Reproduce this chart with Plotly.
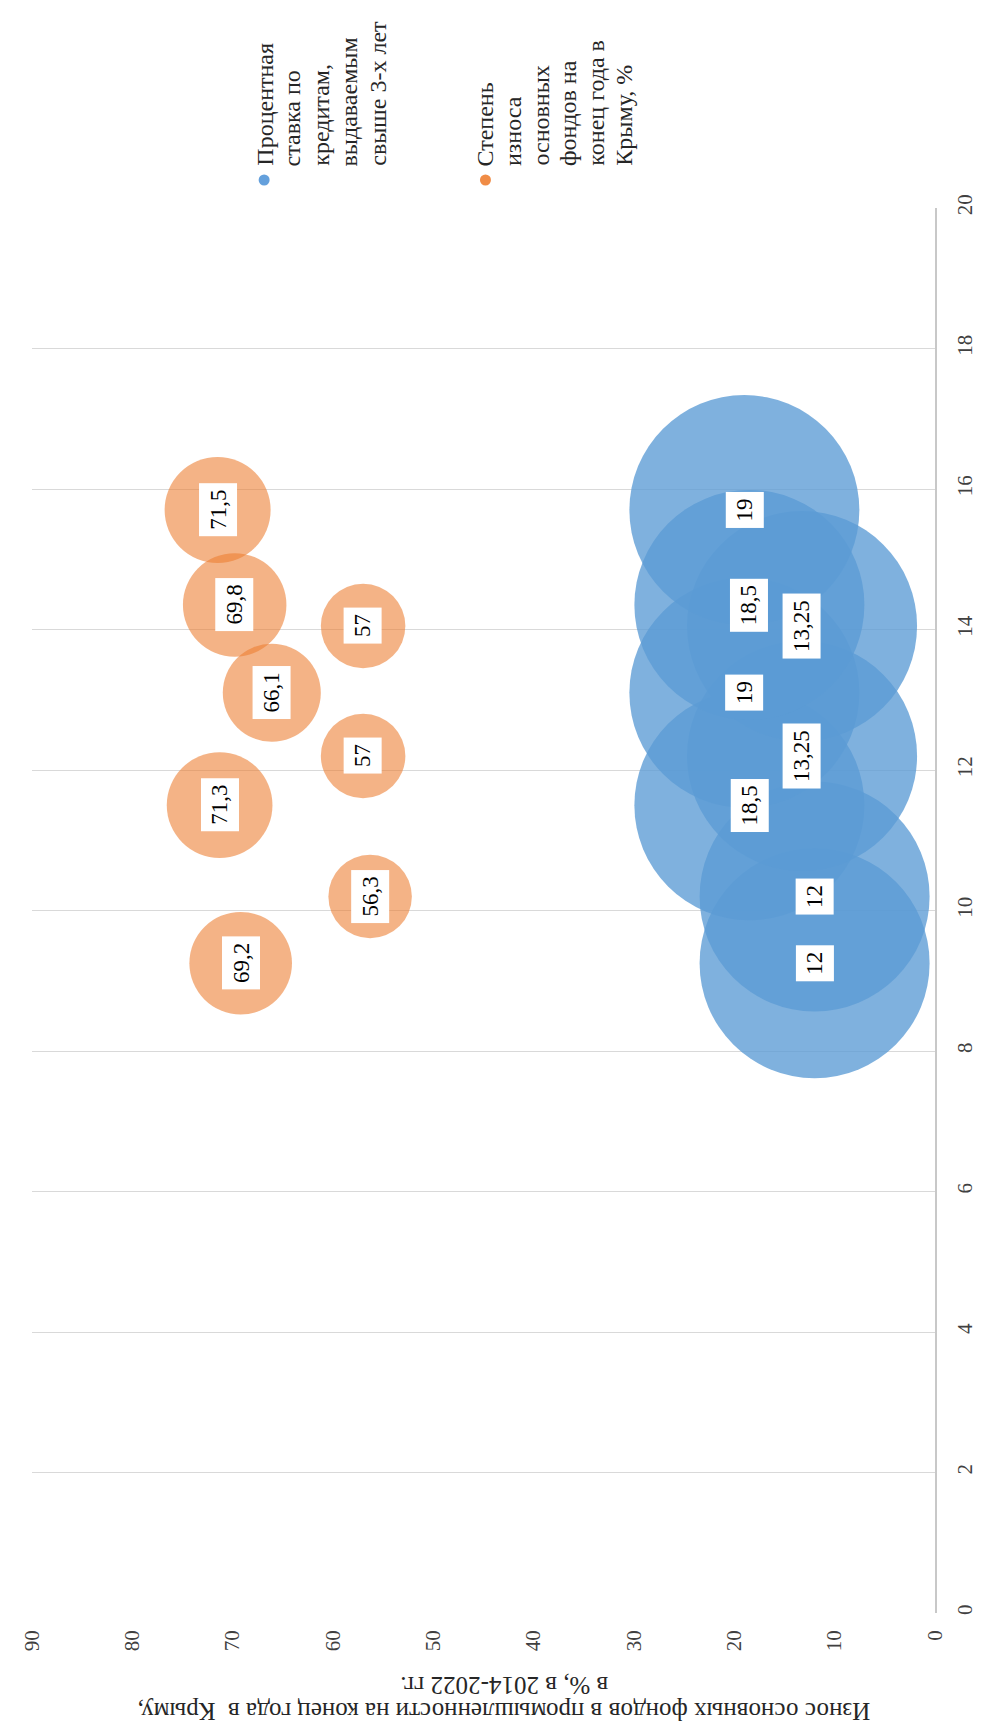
import plotly.graph_objects as go

# ---- data ----
x_vals = [9.25, 10.2, 11.5, 12.2, 13.1, 14.05, 14.35, 15.7]
rate = [12, 12, 18.5, 13.25, 19, 13.25, 18.5, 19]
wear = [69.2, 56.3, 71.3, 57, 66.1, 57, 69.8, 71.5]
legend_lines_rate = ["Процентная", "ставка по", "кредитам,", "выдаваемым", "свыше 3-х лет"]
legend_lines_wear = ["Степень", "износа", "основных", "фондов на", "конец года в", "Крыму, %"]
x_ticks = [0, 2, 4, 6, 8, 10, 12, 14, 16, 18, 20]
y_ticks = [0, 10, 20, 30, 40, 50, 60, 70, 80, 90]
axis_title_lines = ["Износ основных фондов в промышленности на конец года в  Крыму,",
                    "в %, в 2014-2022 гг."]

BLUE = "rgba(91,155,213,0.78)"
ORANGE = "rgba(237,125,49,0.84)"
BLUE_SOLID = "rgb(100,160,220)"
ORANGE_SOLID = "rgb(240,140,70)"
SERIF = "Liberation Serif"
TXT = "#262626"

W, H = 981, 1728
L, R, T, B = 22, 41, 200, 123
pw, ph = W - L - R, H - T - B


def px(xp):
    return (xp - L) / pw


def py(yp):
    return (H - B - yp) / ph


def fmt(v):
    return ("%g" % v).replace(".", ",")


fig = go.Figure()
# the chart is drawn rotated: value axis (0-90) horizontal & reversed, x (0-20) vertical
fig.add_trace(go.Scatter(
    x=rate, y=x_vals, mode="markers",
    marker=dict(size=230, color=BLUE, line=dict(width=0)),
    showlegend=False, hoverinfo="skip"))
fig.add_trace(go.Scatter(
    x=wear, y=x_vals, mode="markers",
    marker=dict(size=wear, sizemode="diameter", sizeref=71.5 / 106,
                color=ORANGE, line=dict(width=0)),
    showlegend=False, hoverinfo="skip"))

ann = []
for series in (rate, wear):
    for xv, v in zip(x_vals, series):
        ann.append(dict(x=v, y=xv, xref="x", yref="y", text=fmt(v),
                        showarrow=False, textangle=-90,
                        font=dict(family=SERIF, size=23, color="#000"),
                        bgcolor="white", borderpad=6))

shapes = []
# rotated legend, one annotation per line
for x0, col, lines, step in ((258, BLUE_SOLID, legend_lines_rate, 28.75),
                             (483, ORANGE_SOLID, legend_lines_wear, 28.0)):
    shapes.append(dict(type="circle", xref="paper", yref="paper",
                       xsizemode="pixel", ysizemode="pixel",
                       xanchor=px(x0), yanchor=py(172),
                       x0=-5.5, x1=5.5, y0=-5.5, y1=5.5,
                       fillcolor=col, line=dict(width=0)))
    for i, line in enumerate(lines):
        ann.append(dict(x=px(x0 + i * step), y=py(160), xref="paper", yref="paper",
                        xanchor="center", yanchor="bottom",
                        text=line, showarrow=False, textangle=-90,
                        font=dict(family=SERIF, size=24, color=TXT)))

# upside-down axis title, one annotation per line
for yl, line in zip((1703, 1678), axis_title_lines):
    ann.append(dict(x=px(502), y=py(yl), xref="paper", yref="paper",
                    xanchor="center", yanchor="middle",
                    text=line, showarrow=False, textangle=180,
                    font=dict(family=SERIF, size=25, color=TXT)))

fig.update_layout(
    width=W, height=H,
    margin=dict(l=L, r=R, t=T, b=B, pad=0),
    paper_bgcolor="white", plot_bgcolor="white",
    annotations=ann, shapes=shapes,
    xaxis=dict(range=[90, 0], tickvals=y_ticks, tickangle=-90,
               showgrid=False, zeroline=False, showline=False,
               ticks="", ticklabelstandoff=12,
               tickfont=dict(family=SERIF, size=21, color="#404040")),
    yaxis=dict(range=[0, 20], tickvals=x_ticks, side="right", tickangle=-90,
               showgrid=True, gridcolor="#D9D9D9", gridwidth=1,
               zeroline=False, showline=True, linecolor="#C8C8C8",
               linewidth=2, ticks="", ticklabelstandoff=10,
               tickfont=dict(family=SERIF, size=21, color="#404040")),
)

fig.write_html("out.html")
